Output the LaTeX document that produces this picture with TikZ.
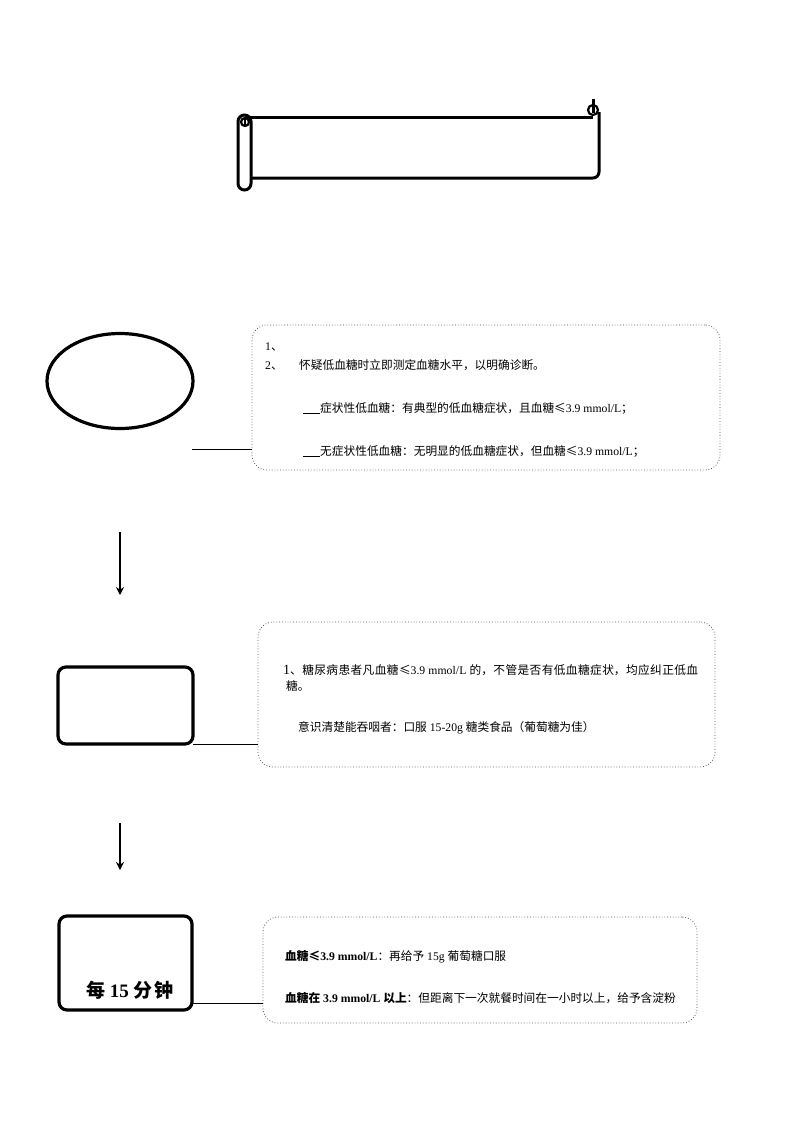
\documentclass[tikz,border=0pt]{standalone}
\usepackage{fontspec}
\setmainfont{Liberation Serif}
\newfontfamily\cjk{Noto Sans CJK SC}
\usetikzlibrary{shapes.geometric,arrows.meta}
\newcommand\zh[1]{{\cjk #1}}
\XeTeXlinebreaklocale "zh"
\XeTeXlinebreakskip=0pt plus 3pt minus 0.3pt
\tikzset{
  heavy/.style={draw, line width=3.2pt},
  thickbox/.style={heavy, rounded corners=8pt, inner sep=0pt, outer sep=0pt},
  dotbox/.style={draw=black!65, dotted, line width=0.8pt, rounded corners=15pt, inner sep=0pt, outer sep=0pt},
  conn/.style={draw, line width=1pt},
  flow/.style={draw, line width=1.7pt, -{Stealth[length=8pt,width=8pt]}},
  txt/.style={anchor=base west, inner sep=0pt, font=\fontsize{11.7}{14}\selectfont},
}
\begin{document}
\begin{tikzpicture}[x=1pt,y=-1pt]
\useasboundingbox (0,0) rectangle (793,1122);
\fill[white] (0,0) rectangle (793,1122);

% scroll banner
\draw[line width=3pt, rounded corners=6.5pt] (238,115) rectangle (251,190);
\draw[line width=2.2pt] (245,122) circle (4);
\draw[line width=1.5pt] (245,119) -- (245,126);
\draw[line width=3pt] (245,117) -- (593,117);
\draw[line width=3pt, rounded corners=6pt] (599,112) -- (599,178) -- (251,178);
\draw[line width=2.2pt] (593,110) circle (5);
\draw[line width=3pt] (593,99) -- (593,113);

% row 1
\node[heavy, ellipse, minimum width=146pt, minimum height=95pt, inner sep=0pt] (e1) at (120,381) {};
\node[dotbox, minimum width=468pt, minimum height=145pt] (b1) at (486,397.5) {};
\coordinate (c1) at (192,449);
\draw[conn] (c1) -- (c1 -| b1.west);
\node[txt] (t11) at (265,350) {1\zh{、}};
\node[txt] (t12) at (265,369) {2\zh{、}};
\node[txt] (t13) at (299,369) {\zh{怀疑低血糖时立即测定血糖水平，以明确诊断。}};
\node[txt] (t14) at (303,412) {\rule[-1pt]{17pt}{0.4pt}\zh{症状性低血糖：有典型的低血糖症状，且血糖≤}3.9 mmol/L\zh{；}};
\node[txt] (t15) at (303,455) {\rule[-1pt]{17pt}{0.4pt}\zh{无症状性低血糖：无明显的低血糖症状，但血糖≤}3.9 mmol/L\zh{；}};

% arrow 1
\coordinate (a1s) at (120,532);
\coordinate (a1e) at (120,595);
\draw[flow] (a1s) -- (a1e);

% row 2
\node[thickbox, minimum width=135pt, minimum height=77pt] (r2) at (125.5,705.5) {};
\node[dotbox, minimum width=457pt, minimum height=145pt] (b2) at (486.5,694.5) {};
\draw[conn] (r2.south east) -- (r2.south east -| b2.west);
\node[txt, text width=415pt, align=justify] (t21) at (283,674) {{\parfillskip=0pt {\fontsize{14}{14}\selectfont 1}\zh{、糖尿病患者凡血糖≤}3.9 mmol/L \zh{的，不管是否有低血糖症状，均应纠正低血}\par}};
\node[txt] (t22) at (286,690) {\zh{糖。}};
\node[txt] (t23) at (298,731) {\zh{意识清楚能吞咽者：口服} 15-20g \zh{糖类食品（葡萄糖为佳）}};

% arrow 2
\coordinate (a2s) at (120,823);
\coordinate (a2e) at (120,870);
\draw[flow] (a2s) -- (a2e);

% row 3
\node[thickbox, minimum width=133pt, minimum height=94pt] (r3) at (125.5,963) {};
\node[anchor=base west, inner sep=0pt, font=\fontsize{19}{19}\selectfont\bfseries] (t30) at (86,997) {\zh{每} 15 \zh{分}\hspace{2pt}\zh{钟}};
\node[dotbox, minimum width=434pt, minimum height=106pt] (b3) at (480,970) {};
\coordinate (c3) at (192,1003);
\draw[conn] (c3) -- (c3 -| b3.west);
\node[txt] (t31) at (285,960) {\textbf{\zh{血糖≤}3.9 mmol/L}\zh{：再给予} 15g \zh{葡萄糖口服}};
\node[txt] (t32) at (285,1002) {\textbf{\zh{血糖在} 3.9 mmol/L \zh{以上}}\zh{：但距离下一次就餐时间在一小时以上，给予含淀粉}};
\end{tikzpicture}
\end{document}
